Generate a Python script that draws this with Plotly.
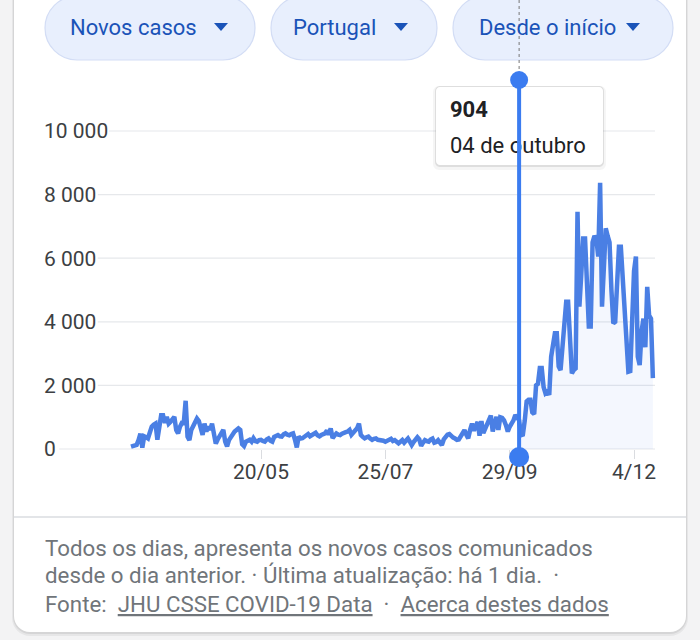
import pandas as pd
import plotly.graph_objects as go

# ---------------- data ----------------
START_DATE = "2020-03-12"
MAR = [73, 85, 110, 130, 280, 480, 40, 400, 370, 330, 520, 700, 760, 800, 290, 780, 1060, 1060, 820, 1010]
APR = [800, 860, 960, 1010, 600, 490, 700, 820, 815, 1516, 390, 280, 600, 700, 800, 960, 880, 700, 440, 800,
       550, 700, 600, 800, 390, 170, 300, 390, 490, 600]
MAY = [230, 80, 280, 390, 490, 550, 600, 650, 600, 150, 90, 230, 260, 290, 230, 340, 250, 230, 280, 290,
       250, 230, 300, 335, 260, 230, 380, 400, 440, 400, 390]
JUN = [460, 490, 450, 430, 470, 490, 300, 50, 390, 330, 340, 390, 420, 470, 400, 440, 480, 510, 430, 400,
       440, 460, 490, 580, 450, 650, 340, 420, 490, 450]
JUL = [440, 480, 490, 530, 550, 600, 450, 520, 600, 650, 800, 440, 380, 335, 370, 390, 330, 290, 320, 335,
       290, 280, 300, 260, 230, 270, 280, 320, 250, 280, 230]
AUG = [180, 230, 280, 200, 250, 330, 230, 125, 220, 290, 370, 300, 100, 200, 280, 250, 230, 300, 330, 200,
       220, 280, 200, 125, 300, 390, 450, 470, 390, 360, 330]
SEP = [290, 300, 420, 500, 590, 450, 335, 600, 800, 580, 700, 850, 420, 880, 500, 650, 800, 900, 1050, 550,
       880, 1010, 600, 1000, 980, 900, 750, 550, 700, 800]
OCT = [900, 1070, 1010, 904, 430, 450, 900, 1500, 1550, 1550, 1150, 1100, 2000, 2050, 2550, 2550, 1950, 1750,
       1800, 1700, 2900, 3300, 3640, 3640, 2600, 2480, 3300, 4200, 4630, 4630, 3600]
NOV = [2380, 2480, 2530, 7460, 4480, 5500, 6620, 6620, 5000, 3850, 3850, 6500, 6700, 6600, 6050, 8370, 4475,
       6000, 6940, 6700, 6500, 5000, 3950, 4000, 5200, 6360, 6360, 5300, 4350, 3370]
DEC = [2430, 2450, 4050, 5600, 6050, 2900, 2640, 3700, 4100, 3200, 5100, 4200, 4100, 2230]

VALUES = MAR + APR + MAY + JUN + JUL + AUG + SEP + OCT + NOV + DEC
DATES = pd.date_range(START_DATE, periods=len(VALUES), freq="D")

HOVER_DATE = "2020-10-04"
HOVER_VALUE_LABEL = "904"
HOVER_DATE_LABEL = "04 de outubro"

Y_TICKS = [0, 2000, 4000, 6000, 8000, 10000]
Y_TICK_LABELS = ["0", "2 000", "4 000", "6 000", "8 000", "10 000"]
X_TICKS = ["2020-05-20", "2020-07-25", "2020-09-29", "2020-12-04"]
X_TICK_LABELS = ["20/05", "25/07", "29/09", "4/12"]

MENU_LABELS = ["Novos casos", "Portugal", "Desde o início"]
FOOTER_1 = "Todos os dias, apresenta os novos casos comunicados"
FOOTER_2 = "desde o dia anterior. · Última atualização: há 1 dia.\u00a0\u00a0·"
FOOTER_SRC = "Fonte:"
FOOTER_LINK_1 = "JHU CSSE COVID-19 Data"
FOOTER_LINK_2 = "Acerca destes dados"

# ---------------- geometry helpers ----------------
W, H = 700, 640
FONT = "Roboto"


def px(x):
    return x / W


def py(y):
    return 1 - y / H


PLOT_L, PLOT_R, PLOT_T, PLOT_B = 41, 660, 80, 470
ZERO_PX = 449
PX_PER_UNIT = 31.8 / 1000
Y_RANGE = [(ZERO_PX - PLOT_B) / PX_PER_UNIT, (ZERO_PX - PLOT_T) / PX_PER_UNIT]

ANCHOR_DATE = pd.Timestamp("2020-05-20")
ANCHOR_PX = 261
PX_PER_DAY = 1.884
X_RANGE = [ANCHOR_DATE + pd.Timedelta(days=(PLOT_L - ANCHOR_PX) / PX_PER_DAY),
           ANCHOR_DATE + pd.Timedelta(days=(PLOT_R - ANCHOR_PX) / PX_PER_DAY)]


def val_py(v):
    return py(ZERO_PX - v * PX_PER_UNIT)


def rrect(x0, y0, x1, y1, r):
    k = 0.5523 * r
    pts = [
        ("M", [(x0 + r, y0)]), ("L", [(x1 - r, y0)]),
        ("C", [(x1 - r + k, y0), (x1, y0 + r - k), (x1, y0 + r)]),
        ("L", [(x1, y1 - r)]),
        ("C", [(x1, y1 - r + k), (x1 - r + k, y1), (x1 - r, y1)]),
        ("L", [(x0 + r, y1)]),
        ("C", [(x0 + r - k, y1), (x0, y1 - r + k), (x0, y1 - r)]),
        ("L", [(x0, y0 + r)]),
        ("C", [(x0, y0 + r - k), (x0 + r - k, y0), (x0 + r, y0)]),
    ]
    s = ""
    for cmd, ps in pts:
        s += cmd + " " + " ".join(f"{px(a):.5f},{py(b):.5f}" for a, b in ps) + " "
    return s + "Z"


shapes = []
annotations = []

# card shadow + card
shapes.append(dict(type="path", xref="paper", yref="paper", layer="below",
                   path=rrect(12, -40, 688, 636, 18), fillcolor="rgba(0,0,0,0.05)", line=dict(width=0)))
shapes.append(dict(type="path", xref="paper", yref="paper", layer="below",
                   path=rrect(13, -40, 687, 634, 17), fillcolor="rgba(0,0,0,0.07)", line=dict(width=0)))
shapes.append(dict(type="path", xref="paper", yref="paper", layer="below",
                   path=rrect(14, -40, 686, 632, 16), fillcolor="white", line=dict(width=0)))
# separator
shapes.append(dict(type="line", xref="paper", yref="paper", layer="below",
                   x0=px(14), x1=px(686), y0=py(517), y1=py(517), line=dict(color="#dadce0", width=1.5)))

# menu pills
PILLS = [(45, 255), (271, 437), (453, 673)]
TEXT_CX = [133, 334, 547]
TRI_CX = [221, 401, 633]
for (x0, x1), label, tcx, trx in zip(PILLS, MENU_LABELS, TEXT_CX, TRI_CX):
    shapes.append(dict(type="path", xref="paper", yref="paper", layer="below",
                       path=rrect(x0, -4, x1, 60, 32), fillcolor="#e8effd",
                       line=dict(color="#d3ddf5", width=1.2)))
    shapes.append(dict(type="path", xref="paper", yref="paper", layer="below",
                       path=f"M {px(trx-7)},{py(23)} L {px(trx+7)},{py(23)} L {px(trx)},{py(31)} Z",
                       fillcolor="#1a53b8", line=dict(width=0)))
    annotations.append(dict(text=label, x=px(tcx), y=py(27), xref="paper", yref="paper",
                            xanchor="center", yanchor="middle", showarrow=False,
                            font=dict(family=FONT, size=22, color="#1a53b8")))

# gridlines starting after each label
def label_width(s):
    return sum(5.0 if c == " " else 11.2 for c in s)


for v, lab in zip(Y_TICKS, Y_TICK_LABELS):
    shapes.append(dict(type="line", xref="paper", yref="paper", layer="below",
                       x0=px(45 + label_width(lab) + 3), x1=px(655), y0=val_py(v), y1=val_py(v),
                       line=dict(color="#e6e8eb", width=1.2)))

# tooltip
shapes.append(dict(type="path", xref="paper", yref="paper", layer="below",
                   path=rrect(433, 86, 606, 170, 6), fillcolor="rgba(0,0,0,0.04)", line=dict(width=0)))
shapes.append(dict(type="path", xref="paper", yref="paper", layer="below",
                   path=rrect(435, 86, 604, 167, 5), fillcolor="rgba(0,0,0,0.09)", line=dict(width=0)))
shapes.append(dict(type="path", xref="paper", yref="paper", layer="below",
                   path=rrect(436, 87, 603, 165, 4), fillcolor="white", line=dict(width=0)))
shapes.append(dict(type="rect", xref="paper", yref="paper", layer="below",
                   x0=px(447), x1=px(600), y0=py(94), y1=py(120),
                   fillcolor="rgba(0,0,0,0)", line=dict(width=0),
                   label=dict(text=f"<b>{HOVER_VALUE_LABEL}</b>", textposition="middle left", padding=0,
                              font=dict(family=FONT, size=22, color="#202124"))))
shapes.append(dict(type="rect", xref="paper", yref="paper", layer="below",
                   x0=px(447), x1=px(600), y0=py(130), y1=py(156),
                   fillcolor="rgba(0,0,0,0)", line=dict(width=0),
                   label=dict(text=HOVER_DATE_LABEL, textposition="middle left", padding=0,
                              font=dict(family=FONT, size=22, color="#202124"))))

# hover guide
HOVER_COLOR = "#3b7cf0"
shapes.append(dict(type="line", xref="x", yref="paper", layer="above",
                   x0=HOVER_DATE, x1=HOVER_DATE, y0=py(0), y1=py(72),
                   line=dict(color="#777777", width=1, dash="dot")))
shapes.append(dict(type="line", xref="x", yref="paper", layer="above",
                   x0=HOVER_DATE, x1=HOVER_DATE, y0=py(80), y1=py(457),
                   line=dict(color=HOVER_COLOR, width=4)))
for cy, r in [(80, 9), (457, 10)]:
    shapes.append(dict(type="circle", xref="x", yref="paper", layer="above",
                       xsizemode="pixel", ysizemode="pixel", xanchor=HOVER_DATE, yanchor=py(cy),
                       x0=-r, x1=r, y0=-r, y1=r, fillcolor=HOVER_COLOR, line=dict(width=0)))

# footer
FOOT_STYLE = dict(family=FONT, size=22.3, color="#70757a")
for txt, yy in [(FOOTER_1, 548), (FOOTER_2, 575)]:
    annotations.append(dict(text=txt, x=px(43), y=py(yy), xref="paper", yref="paper",
                            xanchor="left", yanchor="middle", showarrow=False, font=FOOT_STYLE))
U = "<span style='text-decoration:underline'>{}</span>"
line3 = (FOOTER_SRC + "\u00a0\u00a0" + U.format(FOOTER_LINK_1) + "\u00a0\u00a0·\u00a0\u00a0" + U.format(FOOTER_LINK_2))
annotations.append(dict(text=line3, x=px(43), y=py(604), xref="paper", yref="paper",
                        xanchor="left", yanchor="middle", showarrow=False, font=FOOT_STYLE))

# ---------------- traces ----------------
hover_ts = pd.Timestamp(HOVER_DATE)
after = [(d, v) for d, v in zip(DATES, VALUES) if d >= hover_ts]

fig = go.Figure()
fig.add_trace(go.Scatter(x=[d for d, _ in after], y=[v for _, v in after], mode="lines",
                         fill="tozeroy", fillcolor="rgba(66,120,235,0.06)",
                         line=dict(width=0), hoverinfo="skip", showlegend=False))
fig.add_trace(go.Scatter(x=DATES, y=VALUES, mode="lines",
                         line=dict(color="#4a7fe4", width=4.5), hoverinfo="skip", showlegend=False))

fig.update_layout(
    width=W, height=H, margin=dict(l=0, r=0, t=0, b=0),
    paper_bgcolor="#f3f3f4", plot_bgcolor="rgba(0,0,0,0)",
    showlegend=False, shapes=shapes, annotations=annotations,
    font=dict(family=FONT),
    xaxis=dict(type="date", range=X_RANGE, domain=[px(PLOT_L), px(PLOT_R)],
               tickvals=X_TICKS, ticktext=X_TICK_LABELS, ticks="outside", ticklen=9,
               ticklabelstandoff=-5,
               tickcolor="#dadce0", tickwidth=1, showgrid=False, zeroline=False, showline=False,
               anchor="free", position=val_py(0),
               tickfont=dict(family=FONT, size=21, color="#3c4043"), fixedrange=True),
    yaxis=dict(range=Y_RANGE, domain=[py(PLOT_B), py(PLOT_T)],
               tickvals=Y_TICKS, ticktext=Y_TICK_LABELS, ticklabelposition="inside", ticks="",
               showgrid=False, zeroline=False, showline=False,
               tickfont=dict(family=FONT, size=21, color="#3c4043"), fixedrange=True),
)

fig.write_html("out.html", config={"displayModeBar": False},
               post_script="document.body.style.margin='0';document.body.style.overflow='hidden';")
